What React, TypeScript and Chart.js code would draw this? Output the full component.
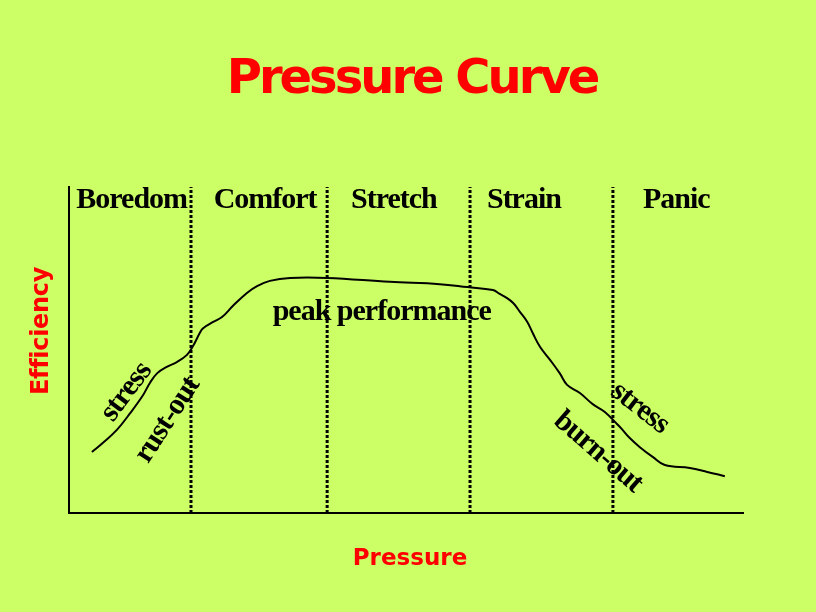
import React, { useEffect, useRef } from "react";
import { Chart, registerables } from "chart.js";

Chart.register(...registerables);

// ---- data (x: pressure 0..100, y: efficiency 0..100) ----
const curveX = [3.4, 5.0, 7.1, 9.1, 11.0, 12.0, 13.1, 14.5, 16.0, 17.5, 18.4, 19.4, 19.9, 21.4, 22.7, 24.3, 26.4, 27.9, 29.8, 32.8, 38.3, 47.6, 55.0, 59.1, 62.9, 63.9, 64.7, 65.9, 66.9, 68.0, 68.8, 69.9, 71.4, 72.8, 73.9, 75.8, 77.7, 79.5, 81.3, 82.0, 83.2, 84.7, 86.6, 88.4, 92.1, 94.7, 97.3];
const curveY = [18.7, 21.5, 25.5, 30.7, 36.2, 39.9, 42.9, 44.8, 46.3, 48.5, 51.2, 55.2, 56.7, 58.6, 60.1, 63.5, 67.5, 69.6, 71.2, 72.1, 72.1, 70.9, 70.2, 69.3, 68.4, 67.2, 66.3, 64.4, 61.7, 58.6, 55.2, 50.9, 46.9, 42.9, 39.3, 36.8, 33.4, 31.0, 27.3, 25.8, 23.0, 20.2, 17.2, 14.7, 13.8, 12.6, 11.3];

const zoneBounds = [18.1, 38.3, 59.5, 80.7];
const zoneNames = ["Boredom", "Comfort", "Stretch", "Strain", "Panic"];
const zoneLabelX = [9.3, 29.1, 48.2, 67.5, 90.1];
const zoneLabelY = 93.6; // baseline

const peakText = "peak performance";
const peakX = 46.4;
const peakY = 59.2; // baseline

const noteTexts = ["stress", "rust-out", "stress", "burn-out"];
const noteX = [8.5, 14.6, 84.7, 78.5];
const noteY = [37.1, 28.5, 32.2, 18.7];
const noteAngle = [-53, -57, 38, 41];

const titleText = "Pressure Curve";
const xTitle = "Pressure";
const yTitle = "Efficiency";

const BG = "#CCFF66";
const RED = "#FF0000";
const SERIF = "'Liberation Serif', 'Times New Roman', serif";
const SANS = "'DejaVu Sans', sans-serif";

const textPlugin = {
  id: "textPlugin",
  beforeDraw(chart: any) {
    const { ctx, width, height } = chart;
    ctx.save();
    ctx.fillStyle = BG;
    ctx.fillRect(0, 0, width, height);
    ctx.restore();
  },
  afterDraw(chart: any) {
    const { ctx, scales } = chart;
    const xs = scales.x;
    const ys = scales.y;
    ctx.save();
    // title
    ctx.fillStyle = RED;
    ctx.textAlign = "center";
    ctx.textBaseline = "alphabetic";
    ctx.font = `bold 48px ${SANS}`;
    (ctx as any).letterSpacing = "-3px";
    ctx.fillText(titleText, 412, 93);
    // axis titles
    ctx.textBaseline = "middle";
    ctx.font = `bold 23px ${SANS}`;
    (ctx as any).letterSpacing = "0px";
    ctx.fillText(xTitle, 410, 559);
    ctx.save();
    ctx.font = `bold 24px ${SANS}`;
    (ctx as any).letterSpacing = "-0.3px";
    ctx.translate(42, 331);
    ctx.rotate(-Math.PI / 2);
    ctx.fillText(yTitle, 0, 0);
    ctx.restore();

    // zone labels
    ctx.fillStyle = "#000";
    ctx.font = `bold 30px ${SERIF}`;
    (ctx as any).letterSpacing = "-1px";
    ctx.textBaseline = "alphabetic";
    zoneNames.forEach((name, i) => {
      ctx.fillText(name, xs.getPixelForValue(zoneLabelX[i]), ys.getPixelForValue(zoneLabelY));
    });
    ctx.fillText(peakText, xs.getPixelForValue(peakX), ys.getPixelForValue(peakY));
    // rotated notes
    ctx.textBaseline = "middle";
    noteTexts.forEach((t, i) => {
      ctx.save();
      ctx.translate(xs.getPixelForValue(noteX[i]), ys.getPixelForValue(noteY[i]));
      ctx.rotate((noteAngle[i] * Math.PI) / 180);
      ctx.fillText(t, 0, 0);
      ctx.restore();
    });
    ctx.restore();
  },
};

export default function App() {
  const ref = useRef<HTMLCanvasElement | null>(null);
  useEffect(() => {
    document.body.style.margin = "0";
    document.body.style.background = BG;
    const canvas = ref.current!;
    const dividerSets = zoneBounds.map((b) => ({
      type: "line" as const,
      data: [
        { x: b, y: 0 },
        { x: b, y: 100 },
      ],
      borderColor: "#000",
      borderWidth: 3,
      borderDash: [3, 2],
      pointRadius: 0,
      fill: false,
    }));
    const chart = new Chart(canvas, {
      type: "line",
      data: {
        datasets: [
          {
            data: curveX.map((x, i) => ({ x, y: curveY[i] })),
            borderColor: "#000",
            borderWidth: 2,
            pointRadius: 0,
            tension: 0.4,
            fill: false,
          },
          ...dividerSets,
        ],
      },
      options: {
        animation: false,
        responsive: false,
        maintainAspectRatio: false,
        layout: { padding: { left: 69, right: 73, top: 187, bottom: 99 } },
        plugins: {
          legend: { display: false },
          title: { display: false },
          tooltip: { enabled: false },
        },
        scales: {
          x: {
            type: "linear",
            min: 0,
            max: 100,
            grid: { display: false, drawTicks: false },
            ticks: { display: false },
            border: { display: true, color: "#000", width: 2 },
          },
          y: {
            type: "linear",
            min: 0,
            max: 100,
            grid: { display: false, drawTicks: false },
            ticks: { display: false },
            border: { display: true, color: "#000", width: 2 },
          },
        },
      },
      plugins: [textPlugin],
    });
    return () => chart.destroy();
  }, []);
  return (
    <div style={{ position: "fixed", left: 0, top: 0, width: 816, height: 612, background: BG }}>
      <canvas ref={ref} width={816} height={612} style={{ display: "block" }} />
    </div>
  );
}
